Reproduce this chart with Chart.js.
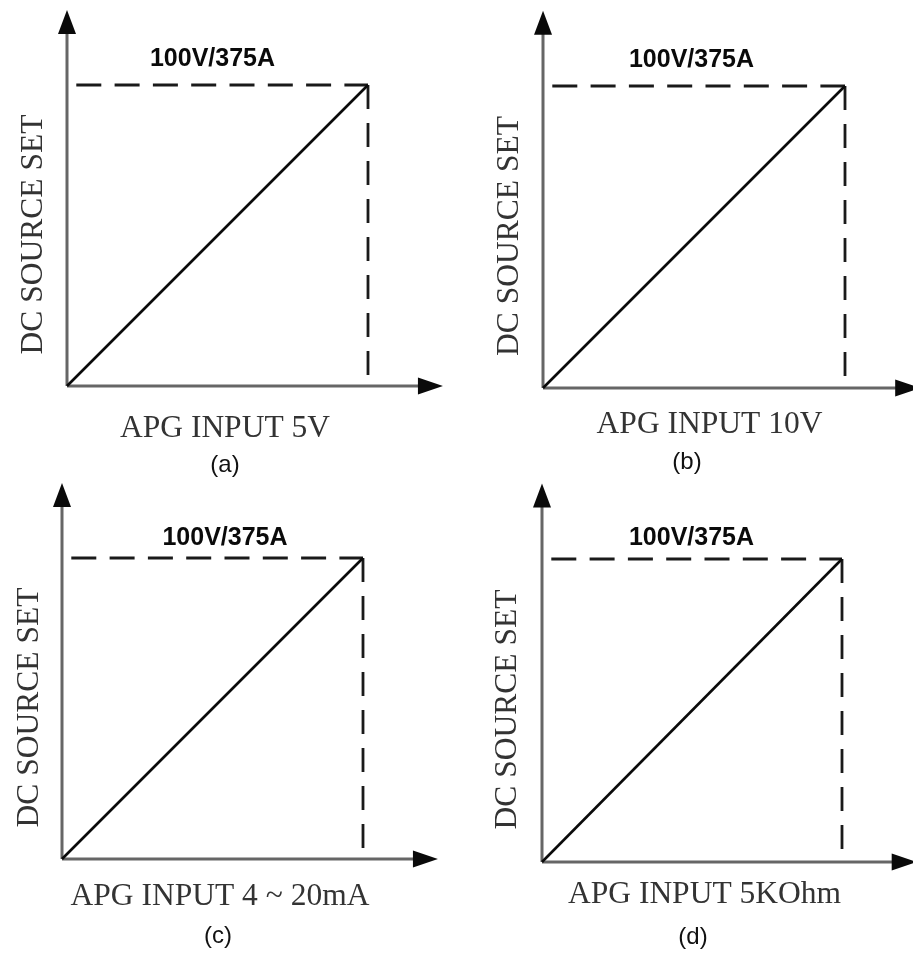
<!DOCTYPE html>
<html>
<head>
<meta charset="utf-8">
<script src="https://cdn.jsdelivr.net/npm/chart.js"></script>
<style>
  html, body { margin: 0; padding: 0; background: #fff; }
  #wrap { position: relative; width: 913px; height: 956px; overflow: hidden; }
  #wrap canvas { position: absolute; }
</style>
</head>
<body>
<div id="wrap"></div>
<script>
// data
const panelIds = ['(a)', '(b)', '(c)', '(d)'];
const inputLabels = ['APG INPUT 5V', 'APG INPUT 10V', 'APG INPUT 4 ~ 20mA', 'APG INPUT 5KOhm'];
const inputMin = [0, 0, 4, 0];      // V, V, mA, kOhm
const inputMax = [5, 10, 20, 5];
const outputPct = [0, 100];         // % of full scale
const ratedLabel = '100V/375A';
const outputLabel = 'DC SOURCE SET';

// how far the arrows run past full scale
const AXIS_REACH = 1.249;

// canvas boxes and text offsets per panel (page pixels)
const boxes = [
  { left: 0,   top: 0,   w: 457, h: 478, pad: { left: 67, top: 85, right: 89, bottom: 92 },
    rated: [145.5, -19], yT: -25.5, xT: [158, 51], cap: [158, 86] },
  { left: 457, top: 0,   w: 456, h: 478, pad: { left: 86, top: 86, right: 68, bottom: 90 },
    rated: [148.5, -19], yT: -25.5, xT: [166.5, 45], cap: [144, 81] },
  { left: 0,   top: 478, w: 457, h: 478, pad: { left: 62, top: 80, right: 94, bottom: 97 },
    rated: [163, -13], yT: -24.5, xT: [158, 46], cap: [156, 84] },
  { left: 457, top: 478, w: 456, h: 478, pad: { left: 85, top: 81, right: 71, bottom: 94 },
    rated: [149.5, -14], yT: -26, xT: [162.5, 41], cap: [151, 82] }
];

const sketchPlugin = {
  id: 'sketch',
  beforeDatasetsDraw(chart, args, opts) {
    const { ctx, scales: { x, y } } = chart;
    const ox = x.getPixelForValue(x.min), oy = y.getPixelForValue(y.min);
    const tipX = x.getPixelForValue(x.min + AXIS_REACH * (x.max - x.min));
    const tipY = y.getPixelForValue(y.min + AXIS_REACH * (y.max - y.min));
    ctx.save();
    // axis lines
    ctx.strokeStyle = '#666';
    ctx.lineWidth = 3;
    ctx.beginPath();
    ctx.moveTo(ox, oy); ctx.lineTo(tipX - 20, oy);
    ctx.moveTo(ox, oy); ctx.lineTo(ox, tipY + 20);
    ctx.stroke();
    // arrow heads
    ctx.fillStyle = '#0a0a0a';
    ctx.beginPath();
    ctx.moveTo(tipX, oy); ctx.lineTo(tipX - 25, oy - 8.5); ctx.lineTo(tipX - 25, oy + 8.5);
    ctx.closePath(); ctx.fill();
    ctx.beginPath();
    ctx.moveTo(ox, tipY); ctx.lineTo(ox - 9, tipY + 24); ctx.lineTo(ox + 9, tipY + 24);
    ctx.closePath(); ctx.fill();
    ctx.restore();
  },
  afterDraw(chart, args, opts) {
    const { ctx, scales: { x, y } } = chart;
    const b = opts.box;
    const ox = x.getPixelForValue(x.min), oy = y.getPixelForValue(y.min);
    const top = y.getPixelForValue(y.max);
    ctx.save();
    ctx.textAlign = 'center';
    ctx.textBaseline = 'alphabetic';

    ctx.fillStyle = '#0a0a0a';
    ctx.font = 'bold 25px "Liberation Sans", Arial, sans-serif';
    ctx.fillText(opts.rated, ox + b.rated[0], top + b.rated[1]);

    ctx.fillStyle = '#333';
    ctx.font = '31.5px "Liberation Serif", "Times New Roman", serif';
    ctx.fillText(opts.xTitle, ox + b.xT[0], oy + b.xT[1]);

    ctx.save();
    ctx.translate(ox + b.yT, (oy + top) / 2 - 1);
    ctx.rotate(-Math.PI / 2);
    ctx.fillText(opts.yTitle, 0, 0);
    ctx.restore();

    ctx.fillStyle = '#111';
    ctx.font = '24px "Liberation Sans", Arial, sans-serif';
    ctx.fillText(opts.caption, ox + b.cap[0], oy + b.cap[1]);
    ctx.restore();
  }
};

const wrap = document.getElementById('wrap');

panelIds.forEach((id, i) => {
  const b = boxes[i];
  const canvas = document.createElement('canvas');
  canvas.width = b.w;
  canvas.height = b.h;
  canvas.style.left = b.left + 'px';
  canvas.style.top = b.top + 'px';
  canvas.style.width = b.w + 'px';
  canvas.style.height = b.h + 'px';
  wrap.appendChild(canvas);

  const lo = inputMin[i], hi = inputMax[i];
  const full = outputPct[1];

  new Chart(canvas.getContext('2d'), {
    type: 'scatter',
    data: {
      datasets: [
        {
          data: [{ x: lo, y: outputPct[0] }, { x: hi, y: outputPct[1] }],
          showLine: true, borderColor: '#0a0a0a', borderWidth: 2.6, pointRadius: 0, clip: false
        },
        {
          data: [{ x: lo, y: full }, { x: hi, y: full }],
          showLine: true, borderColor: '#1a1a1a', borderWidth: 2.8, pointRadius: 0, clip: false,
          borderDash: [25, 13.3], borderDashOffset: 29
        },
        {
          data: [{ x: hi, y: full }, { x: hi, y: outputPct[0] }],
          showLine: true, borderColor: '#1a1a1a', borderWidth: 2.8, pointRadius: 0, clip: false,
          borderDash: [24, 14], borderDashOffset: 0
        }
      ]
    },
    options: {
      responsive: false,
      animation: false,
      devicePixelRatio: 1,
      events: [],
      layout: { padding: b.pad },
      plugins: {
        legend: { display: false },
        tooltip: { enabled: false },
        sketch: { box: b, rated: ratedLabel, xTitle: inputLabels[i], yTitle: outputLabel, caption: id }
      },
      scales: {
        x: { type: 'linear', display: false, min: lo, max: hi },
        y: { type: 'linear', display: false, min: outputPct[0], max: full }
      }
    },
    plugins: [sketchPlugin]
  });
});
</script>
</body>
</html>
